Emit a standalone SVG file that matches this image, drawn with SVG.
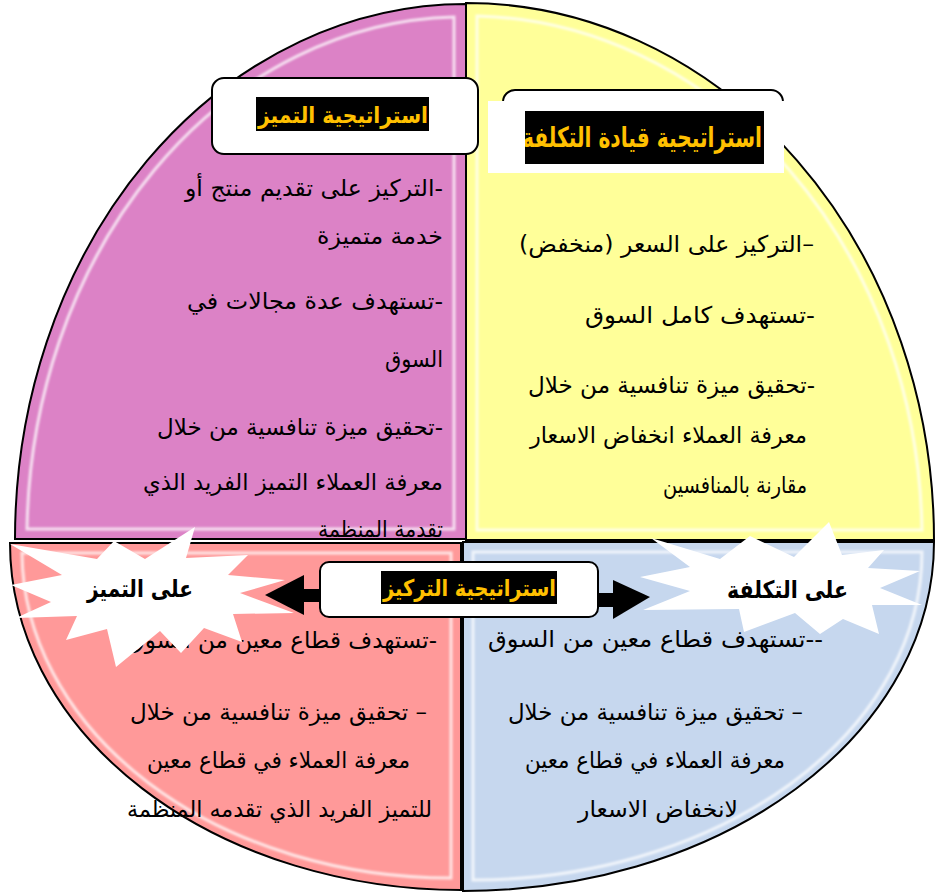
<svg xmlns="http://www.w3.org/2000/svg" width="936" height="893" viewBox="0 0 936 893">
  <defs>
    <style>
      .quad { stroke: #000; stroke-width: 2; }
      .shine { fill: none; stroke: #fff; stroke-width: 3; stroke-opacity: 0.75; filter: url(#soft); }
      .body { font-family: "DejaVu Sans", sans-serif; font-size: 23px; fill: #000; }
      .title { font-family: "DejaVu Sans", sans-serif; font-weight: bold; fill: #FFC000; }
      .burst { fill: #fff; }
      .burstText { font-family: "DejaVu Sans", sans-serif; font-weight: bold; font-size: 24px; fill: #000; }
      .box { fill: #fff; stroke: #000; stroke-width: 2; }
    </style>
    <filter id="soft" x="-5%" y="-5%" width="110%" height="110%">
      <feGaussianBlur stdDeviation="1.2"/>
    </filter>
    <clipPath id="costClip"><rect x="525" y="111" width="239" height="53"/></clipPath>
  </defs>

  <!-- differentiation quadrant -->
  <g id="differentiation">
    <path class="quad" fill="#DC82C6" d="M466,539 L466,4 A451,535 0 0 0 15,539 Z"/>
    <path class="shine" d="M454,529 L454,17 A436,522 0 0 0 27,529 Z"/>
    <g class="body" direction="rtl" text-anchor="start">
      <text x="443" y="196" textLength="258" lengthAdjust="spacingAndGlyphs">-التركيز على تقديم منتج أو</text>
      <text x="443" y="244" textLength="126" lengthAdjust="spacingAndGlyphs">خدمة  متميزة</text>
      <text x="443" y="309" textLength="256" lengthAdjust="spacingAndGlyphs">-تستهدف عدة مجالات في</text>
      <text x="443" y="367" textLength="58" lengthAdjust="spacingAndGlyphs">السوق</text>
      <text x="443" y="435" textLength="286" lengthAdjust="spacingAndGlyphs">-تحقيق ميزة تنافسية من خلال</text>
      <text x="443" y="490" textLength="300" lengthAdjust="spacingAndGlyphs">معرفة العملاء التميز الفريد الذي</text>
      <text x="443" y="537" textLength="125" lengthAdjust="spacingAndGlyphs">تقدمة المنظمة</text>
    </g>
  </g>

  <!-- cost leadership quadrant -->
  <g id="cost-leadership">
    <path class="quad" fill="#FFFF99" d="M466,540 L466,3 A468,537 0 0 1 934,540 Z"/>
    <path class="shine" d="M477,530 L477,16 A455,524 0 0 1 922,530 Z"/>
    <g class="body" direction="rtl" text-anchor="start">
      <text x="814" y="252" textLength="295" lengthAdjust="spacingAndGlyphs">–التركيز على السعر (منخفض)</text>
      <text x="815" y="323" textLength="230" lengthAdjust="spacingAndGlyphs">-تستهدف كامل السوق</text>
      <text x="815" y="393" textLength="287" lengthAdjust="spacingAndGlyphs">-تحقيق ميزة تنافسية من خلال</text>
      <text x="807" y="443" textLength="277" lengthAdjust="spacingAndGlyphs">معرفة العملاء انخفاض الاسعار</text>
      <text x="807" y="493" textLength="144" lengthAdjust="spacingAndGlyphs">مقارنة بالمنافسين</text>
    </g>
  </g>

  <!-- focus on differentiation quadrant -->
  <g id="focus-differentiation">
    <path class="quad" fill="#FF9999" d="M461,543 L10,543 A451,347 0 0 0 461,890 Z"/>
    <path class="shine" d="M451,553 L22,553 A429,327 0 0 0 451,878 Z"/>
    <g class="body" direction="rtl" text-anchor="start">
      <text x="437" y="648" textLength="310" lengthAdjust="spacingAndGlyphs">-تستهدف قطاع معين من السوق</text>
      <text x="427" y="720" textLength="297" lengthAdjust="spacingAndGlyphs">– تحقيق ميزة تنافسية من خلال</text>
      <text x="410" y="768" textLength="263" lengthAdjust="spacingAndGlyphs">معرفة العملاء في قطاع معين</text>
      <text x="432" y="817" textLength="305" lengthAdjust="spacingAndGlyphs">للتميز الفريد الذي تقدمه المنظمة</text>
    </g>
  </g>

  <!-- focus on cost quadrant -->
  <g id="focus-cost">
    <path class="quad" fill="#C6D7EE" d="M463,542 L463,891 A471,349 0 0 0 934,542 Z"/>
    <path class="shine" d="M473,552 L473,880 A449,328 0 0 0 922,552 Z"/>
    <g class="body" direction="rtl" text-anchor="start">
      <text x="823" y="647" textLength="335" lengthAdjust="spacingAndGlyphs">--تستهدف قطاع معين من السوق</text>
      <text x="803" y="720" textLength="295" lengthAdjust="spacingAndGlyphs">– تحقيق ميزة تنافسية من خلال</text>
      <text x="785" y="768" textLength="260" lengthAdjust="spacingAndGlyphs">معرفة العملاء في قطاع معين</text>
      <text x="738" y="817" textLength="160" lengthAdjust="spacingAndGlyphs">لانخفاض الاسعار</text>
    </g>
  </g>

  <!-- starbursts -->
  <g id="burst-differentiation">
    <polygon class="burst" points="195,527 186,558 248,555 228,575 285,580 240,593 294,613 233,614 242,642 204,628 181,653 160,631 116,667 107,629 66,640 77,616 16,618 51,602 11,585 62,575 10,544 97,559 114,541 145,559"/>
    <text class="burstText" x="193" y="597" textLength="106" lengthAdjust="spacingAndGlyphs" direction="rtl" text-anchor="start">على التميز</text>
  </g>
  <g id="burst-cost">
    <polygon class="burst" points="829,522 842,555 884,550 868,568 920,571 880,588 922,605 872,605 879,634 843,619 820,634 795,613 744,632 739,609 643,610 690,591 640,577 690,567 651,538 720,559 750,536 794,557"/>
    <text class="burstText" x="848" y="598" textLength="121" lengthAdjust="spacingAndGlyphs" direction="rtl" text-anchor="start">على التكلفة</text>
  </g>

  <!-- connectors -->
  <g id="connectors" fill="#000">
    <rect x="302" y="589" width="28" height="13"/>
    <polygon points="265,595 304,575 304,615"/>
    <rect x="592" y="593" width="22" height="14"/>
    <polygon points="613,580 650,597 613,619"/>
  </g>

  <!-- focus title -->
  <g id="focus-title">
    <rect class="box" x="320" y="562" width="278" height="55" rx="9"/>
    <rect x="381" y="571" width="176" height="33" fill="#000"/>
    <text class="title" x="556" y="596" font-size="23" textLength="173" lengthAdjust="spacingAndGlyphs" direction="rtl" text-anchor="start">استراتيجية التركيز</text>
  </g>

  <!-- differentiation title -->
  <g id="differentiation-title">
    <rect class="box" x="212" y="78" width="266" height="76" rx="12"/>
    <rect x="256" y="97" width="173" height="34" fill="#000"/>
    <text class="title" x="428" y="123" font-size="23" textLength="170" lengthAdjust="spacingAndGlyphs" direction="rtl" text-anchor="start">استراتيجية التميز</text>
  </g>

  <!-- cost leadership title -->
  <g id="cost-title">
    <rect class="box" x="503" y="90" width="280" height="70" rx="12"/>
    <rect x="488" y="101" width="296" height="72" fill="#fff"/>
    <rect x="525" y="111" width="239" height="53" fill="#000"/>
    <text class="title" x="762" y="147" font-size="28" textLength="240" lengthAdjust="spacingAndGlyphs" direction="rtl" text-anchor="start" clip-path="url(#costClip)">استراتيجية قيادة التكلفة</text>
  </g>
</svg>
